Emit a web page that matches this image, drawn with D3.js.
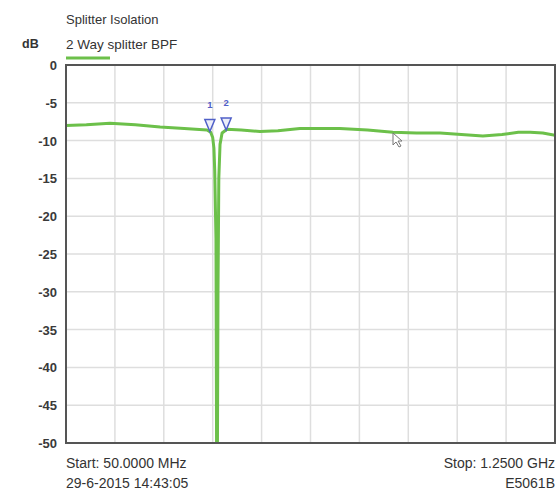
<!DOCTYPE html>
<html>
<head>
<meta charset="utf-8">
<script src="https://cdn.jsdelivr.net/npm/d3@7"></script>
<style>
  body { margin: 0; background: #fff; }
  svg { font-family: "Liberation Sans", Arial, sans-serif; }
</style>
</head>
<body>
<svg width="557" height="490"></svg>
<script>
const freqMHz = [50, 100, 158, 220, 281, 340, 396, 405, 410, 413, 415, 417, 418, 420, 421, 423, 425, 428, 433, 445, 480, 526, 570, 624, 680, 722, 790, 852, 910, 968, 1020, 1073, 1120, 1160, 1189, 1220, 1250];
const isolationDb = [-8.0, -7.9, -7.7, -7.9, -8.2, -8.4, -8.6, -8.9, -9.6, -11, -14, -20, -23, -60, -60, -30, -15, -10.5, -9, -8.5, -8.6, -8.8, -8.7, -8.4, -8.4, -8.4, -8.6, -8.9, -9.0, -9.0, -9.2, -9.4, -9.2, -8.9, -8.9, -9.0, -9.3];
const yTicks = [0, -5, -10, -15, -20, -25, -30, -35, -40, -45, -50];
const xGrid = [50, 170, 290, 410, 530, 650, 770, 890, 1010, 1130, 1250];
const markerNames = ["1", "2"];
const markerFreq = [403, 443];
const markerDb = [-8.8, -8.6];

const svg = d3.select("svg");
const pLeft = 66, pRight = 555, pTop = 65, pBottom = 443;

const x = d3.scaleLinear().domain([50, 1250]).range([pLeft, pRight]);
const y = d3.scaleLinear().domain([0, -50]).range([pTop, pBottom]);

// griglia
svg.append("g")
  .selectAll("line")
  .data(xGrid)
  .join("line")
  .attr("x1", d => x(d)).attr("x2", d => x(d))
  .attr("y1", pTop).attr("y2", pBottom)
  .attr("stroke", "#dedede").attr("stroke-width", 1.5);

svg.append("g")
  .selectAll("line")
  .data(yTicks)
  .join("line")
  .attr("x1", pLeft).attr("x2", pRight)
  .attr("y1", d => y(d)).attr("y2", d => y(d))
  .attr("stroke", "#dedede").attr("stroke-width", 1.5);

// etichette asse y
svg.append("g")
  .selectAll("text")
  .data(yTicks)
  .join("text")
  .attr("x", 57)
  .attr("y", d => y(d) + 5)
  .attr("text-anchor", "end")
  .attr("font-size", 13)
  .attr("font-weight", "bold")
  .attr("fill", "#3a3a3a")
  .text(d => d);

// traccia
svg.append("clipPath").attr("id", "clip")
  .append("rect")
  .attr("x", pLeft).attr("y", pTop)
  .attr("width", pRight - pLeft).attr("height", pBottom - pTop);

const line = d3.line()
  .x((d, i) => x(freqMHz[i]))
  .y(d => y(d));

svg.append("path")
  .datum(isolationDb)
  .attr("clip-path", "url(#clip)")
  .attr("d", line)
  .attr("fill", "none")
  .attr("stroke", "#6cc04a")
  .attr("stroke-width", 3)
  .attr("stroke-linejoin", "round");

// cornice
svg.append("rect")
  .attr("x", pLeft).attr("y", pTop)
  .attr("width", pRight - pLeft).attr("height", pBottom - pTop)
  .attr("fill", "none")
  .attr("stroke", "#555")
  .attr("stroke-width", 2);

// marker
const mk = svg.append("g")
  .selectAll("g")
  .data(markerNames)
  .join("g")
  .attr("transform", (d, i) => `translate(${x(markerFreq[i])},${y(markerDb[i])})`);

mk.append("path")
  .attr("d", "M0,0 L-5,-12 L5,-12 Z")
  .attr("fill", "#eceef9")
  .attr("stroke", "#5060c8")
  .attr("stroke-width", 1.5);

mk.append("text")
  .attr("y", -24)
  .attr("text-anchor", "middle")
  .attr("font-size", 9.5)
  .attr("font-weight", "bold")
  .attr("fill", "#5060c8")
  .text(d => d);

// cursore del mouse
svg.append("path")
  .attr("d", "M393,133 L393,145 L396,142 L399,147 L401,146 L398,141 L402,141 Z")
  .attr("fill", "#fff")
  .attr("stroke", "#777")
  .attr("stroke-width", 1);

// testi
const txt = (tx, ty, s, size, anchor, weight) => svg.append("text")
  .attr("x", tx).attr("y", ty)
  .attr("text-anchor", anchor || "start")
  .attr("font-size", size)
  .attr("font-weight", weight || "normal")
  .attr("fill", "#333")
  .text(s);

txt(66, 24, "Splitter Isolation", 13);
txt(66, 49, "2 Way splitter BPF", 13.5);
txt(22, 48, "dB", 12.5, "start", "bold");
txt(66, 468, "Start: 50.0000 MHz", 14);
txt(66, 488, "29-6-2015 14:43:05", 14);
txt(555, 468, "Stop: 1.2500 GHz", 14, "end");
txt(555, 488, "E5061B", 14, "end");

svg.append("line")
  .attr("x1", 66).attr("x2", 110)
  .attr("y1", 58).attr("y2", 58)
  .attr("stroke", "#6cc04a").attr("stroke-width", 3);
</script>
</body>
</html>
